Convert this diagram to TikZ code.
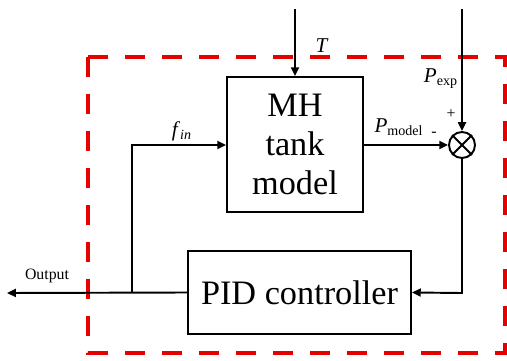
\documentclass[tikz,border=0pt]{standalone}
\usepackage{fontspec}
\setmainfont{Liberation Serif}
\usetikzlibrary{arrows.meta}
\begin{document}
\begin{tikzpicture}[x=0.02cm,y=-0.02cm,
  wire/.style={line width=1.1pt},
  arr/.style={wire,-{Triangle[length=5pt,width=4.5pt]}},
  blockbox/.style={draw,line width=1.1pt,align=center,inner sep=0pt,font=\fontsize{19.5}{22}\selectfont},
  lbl/.style={inner sep=0pt,font=\fontsize{12}{14}\selectfont},
  sgn/.style={inner sep=0pt,font=\fontsize{9}{11}\selectfont},
  frame/.style={draw={rgb,255:red,230;green,0;blue,0},line width=2.3pt,dash pattern=on 0.4cm off 0.34cm}
]
\useasboundingbox (0,0) rectangle (507,361);
% dashed frame
\draw[frame] (88,57) rectangle (505,353);
% blocks
\node[blockbox,minimum width=2.72cm,minimum height=2.7cm] (mh) at (295,144.5) {MH\\tank\\model};
\node[blockbox,minimum width=4.46cm,minimum height=1.66cm] (pid) at (299.5,292.5) {PID controller};
\node[draw,circle,line width=1.1pt,minimum size=0.52cm,inner sep=0pt] (sum) at (462,145) {};
\draw[wire] (sum.north east) -- (sum.south west) (sum.north west) -- (sum.south east);
% coordinates
\coordinate (tin) at (295,9);
\coordinate (pin) at (462,9);
\coordinate (out) at (7,293);
\coordinate (br) at (132,293);
\coordinate (brup) at (132,145);
\coordinate (corner) at (462,293);
% connectors
\draw[arr] (tin) -- (mh.north);
\draw[arr] (pin) -- (sum.north);
\draw[arr] (mh.east |- sum.west) -- (sum.west);
\draw[arr] (sum.south) -- (corner) -- (pid.east);
\draw[arr] (pid.west) -- (out);
\draw[arr] (br) -- (brup) -- (mh.west |- brup);
% labels
\node[lbl] (tl) at (322,46) {\textit{T}};
\node[lbl] (pexp) at (441,79) {\textit{P}\textsubscript{exp}};
\node[lbl] (pmod) at (399,127) {\textit{P}\textsubscript{model}};
\node[lbl] (fin) at (182,131) {\textit{f}\textsubscript{\textit{in}}};
\node[sgn] (plus) at (451,114) {+};
\node[sgn] (minus) at (434,134) {-};
\node[inner sep=0pt,font=\fontsize{9}{11}\selectfont] (outl) at (47,276) {Output};
\end{tikzpicture}
\end{document}
